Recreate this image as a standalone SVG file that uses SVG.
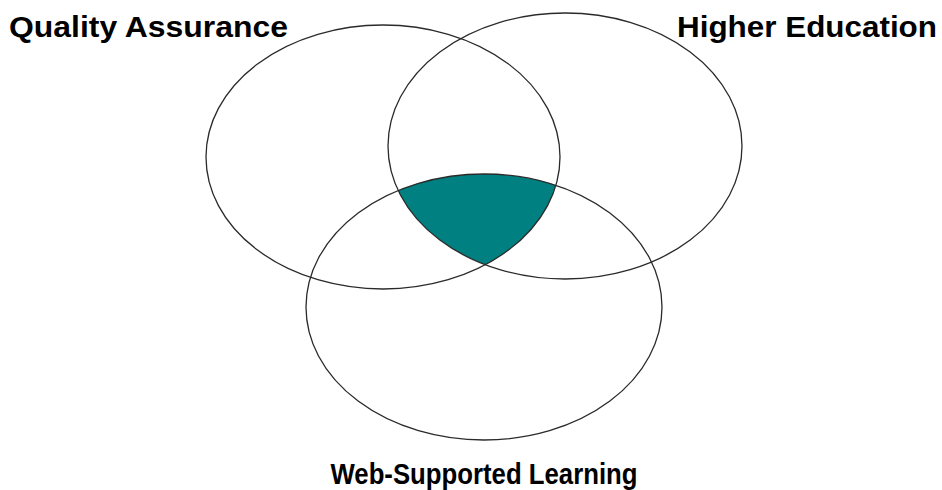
<svg xmlns="http://www.w3.org/2000/svg" width="942" height="490" viewBox="0 0 942 490">
  <style>
    .ring { fill: none; stroke: #2a2a2a; stroke-width: 1.3; }
    .label { font-family: "Liberation Sans", Arial, sans-serif; font-weight: bold; font-size: 29px; fill: #000; }
  </style>
  <defs>
    <clipPath id="clipLeft">
      <ellipse cx="383" cy="157" rx="177" ry="132"/>
    </clipPath>
    <clipPath id="clipRight">
      <ellipse cx="565" cy="146" rx="177" ry="133"/>
    </clipPath>
  </defs>
  <rect width="942" height="490" fill="#ffffff"/>
  <g id="intersection">
    <g clip-path="url(#clipLeft)">
      <g clip-path="url(#clipRight)">
        <ellipse cx="484" cy="307" rx="178" ry="133" fill="#008080"/>
      </g>
    </g>
  </g>
  <g id="quality-assurance">
    <ellipse class="ring" cx="383" cy="157" rx="177" ry="132"/>
    <text class="label" x="9" y="37" textLength="279" lengthAdjust="spacingAndGlyphs">Quality Assurance</text>
  </g>
  <g id="higher-education">
    <ellipse class="ring" cx="565" cy="146" rx="177" ry="133"/>
    <text class="label" x="677" y="37" textLength="260" lengthAdjust="spacingAndGlyphs">Higher Education</text>
  </g>
  <g id="web-supported-learning">
    <ellipse class="ring" cx="484" cy="307" rx="178" ry="133"/>
    <text class="label" x="484" y="484" text-anchor="middle" textLength="307" lengthAdjust="spacingAndGlyphs">Web-Supported Learning</text>
  </g>
  <g id="connectors"></g>
</svg>
